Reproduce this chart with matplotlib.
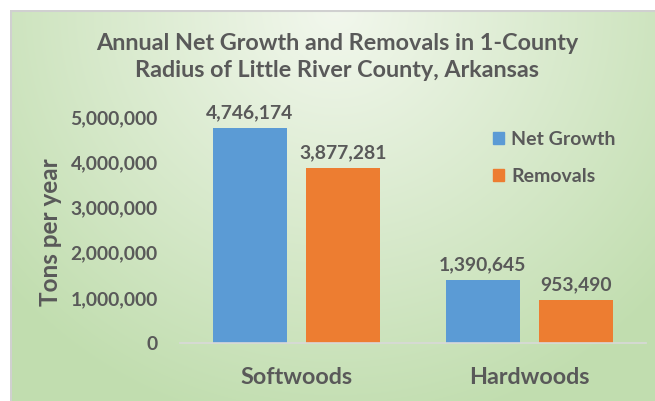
import numpy as np
import matplotlib
matplotlib.use('Agg')
from matplotlib import pyplot as plt
from matplotlib.patches import Patch

# chart data
categories = ['Softwoods', 'Hardwoods']
series_names = ['Net Growth', 'Removals']
net_growth = [4746174, 1390645]
removals = [3877281, 953490]
yticks = [0, 1000000, 2000000, 3000000, 4000000, 5000000]

blue = '#5b9bd5'
orange = '#ed7d31'
txt = '#595959'

plt.rcParams['font.family'] = ['Lato', 'DejaVu Sans']

W, H = 655, 401
fig = plt.figure(figsize=(W / 100, H / 100), dpi=100)
fig.patch.set_facecolor('white')

# Background of the chart area (radial green gradient)
bg = fig.add_axes([10 / W, 0, 1 - 10 / W, 1 - 10 / H])
bw, bh = W - 10, H - 10
xx, yy = np.meshgrid(np.arange(bw), np.arange(bh))
d = np.sqrt(((xx - 325) / 430.0) ** 2 + ((yy - 0) / 420.0) ** 2)
d = np.clip(d, 0, 1)
c0 = np.array([0.95, 0.97, 0.93])
c1 = np.array([0.76, 0.87, 0.69])
img = c0[None, None, :] + (c1 - c0)[None, None, :] * d[:, :, None]
bg.imshow(img, aspect='auto', extent=(0, bw, bh, 0))
bg.set_xlim(0, bw)
bg.set_ylim(bh, 0)
bg.axis('off')
bg.plot([0.5, 0.5], [0, bh], color='#d0d0d0', lw=1.5)
bg.plot([0, bw], [0.5, 0.5], color='#d0d0d0', lw=1.5)

# Plot area
x0, x1 = 180, 646
y_zero = 343
px_per_m = 45.2
ax = fig.add_axes([x0 / W, (H - y_zero) / H, (x1 - x0) / W, 5 * px_per_m / H])
ax.patch.set_visible(False)

x = np.arange(len(categories))
w = 0.32
b1 = ax.bar(x - 0.2, net_growth, w, color=blue, label=series_names[0])
b2 = ax.bar(x + 0.2, removals, w, color=orange, label=series_names[1])
for bars in (b1, b2):
    ax.bar_label(bars, labels=['{:,}'.format(v) for v in bars.datavalues],
                 padding=5, fontsize=13.9, fontweight='bold', color=txt)

ax.set_xlim(-0.5, 1.5)
ax.set_ylim(0, 5000000)
ax.set_yticks(yticks)
ax.set_yticklabels(['{:,}'.format(v) for v in yticks])
ax.set_xticks(x)
ax.set_xticklabels(categories)
for s in ['top', 'right', 'left']:
    ax.spines[s].set_visible(False)
ax.spines['bottom'].set_color('#d9d9d9')
ax.spines['bottom'].set_linewidth(1.2)
ax.tick_params(axis='both', length=0)
ax.tick_params(axis='y', labelsize=13.9, labelcolor=txt, pad=16)
ax.tick_params(axis='x', labelsize=16.8, labelcolor=txt, pad=17)
for lab in ax.get_xticklabels() + ax.get_yticklabels():
    lab.set_fontweight('bold')

fig.text(51 / W, 1 - 232 / H, 'Tons per year', rotation=90, ha='center', va='center',
         fontsize=17.5, fontweight='bold', color=txt)

fig.text(337 / W, 1 - 57 / H,
         'Annual Net Growth and Removals in 1-County\nRadius of Little River County, Arkansas',
         ha='center', va='center', fontsize=16.8, fontweight='bold', color=txt, linespacing=1.3)

handles = [Patch(color=blue), Patch(color=orange)]
leg = fig.legend(handles, series_names, loc='center left',
                 bbox_to_anchor=(476 / W, 1 - 158 / H), frameon=False,
                 handlelength=0.55, handleheight=0.55, handletextpad=0.35,
                 labelspacing=1.05, prop={'size': 14, 'weight': 'bold'})
for t in leg.get_texts():
    t.set_color(txt)

fig.savefig('out.png', dpi=100)
